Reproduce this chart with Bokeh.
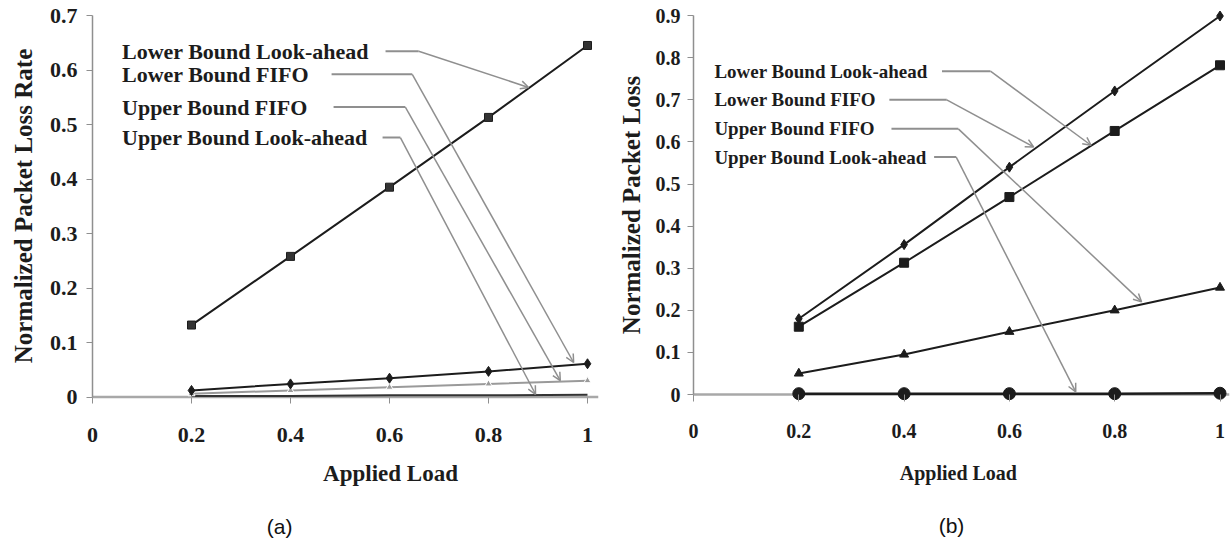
from bokeh.plotting import figure
from bokeh.layouts import row, column
from bokeh.models import Range1d, FixedTicker, NumeralTickFormatter, Span, Arrow, OpenHead, Label
from bokeh.core.properties import value
from bokeh.embed import file_html
from bokeh.resources import INLINE

# ---------------- data ----------------
load = [0.2, 0.4, 0.6, 0.8, 1.0]

# panel (a)
a_lb_look = [0.132, 0.258, 0.385, 0.513, 0.645]
a_lb_fifo = [0.012, 0.024, 0.0345, 0.047, 0.061]
a_ub_fifo = [0.006, 0.012, 0.018, 0.024, 0.030]
a_ub_look = [0.002, 0.002, 0.003, 0.003, 0.004]

# panel (b)
b_lb_look = [0.161, 0.313, 0.469, 0.626, 0.782]
b_lb_fifo = [0.180, 0.356, 0.540, 0.721, 0.899]
b_ub_fifo = [0.050, 0.095, 0.149, 0.200, 0.254]
b_ub_look = [0.002, 0.002, 0.002, 0.002, 0.003]

series_names = ["Lower Bound Look-ahead", "Lower Bound FIFO",
                "Upper Bound FIFO", "Upper Bound Look-ahead"]
x_ticks = [0, 0.2, 0.4, 0.6, 0.8, 1.0]
a_y_ticks = [0, 0.1, 0.2, 0.3, 0.4, 0.5, 0.6, 0.7]
b_y_ticks = [0, 0.1, 0.2, 0.3, 0.4, 0.5, 0.6, 0.7, 0.8, 0.9]
x_title = "Applied Load"
a_y_title = "Normalized Packet Loss Rate"
b_y_title = "Normalized Packet Loss"
captions = ["(a)", "(b)"]

# ---------------- layout / callout geometry (data units) ----------------
a_callout = dict(
    label_x=0.0596, label_y=[0.6345, 0.592, 0.532, 0.476],
    start_x=[0.592, 0.483, 0.487, 0.586], kink_x=[0.659, 0.646, 0.632, 0.622],
    tip=[(0.881, 0.568), (0.972, 0.0633), (0.945, 0.030), (0.895, 0.005)])
b_callout = dict(
    label_x=0.0397, label_y=[0.768, 0.700, 0.631, 0.564],
    start_x=[0.472, 0.372, 0.376, 0.457], kink_x=[0.564, 0.481, 0.503, 0.499],
    tip=[(0.755, 0.592), (0.646, 0.588), (0.851, 0.220), (0.726, 0.0064)])

SERIF = "Liberation Serif"
SANS = "Liberation Sans"
GRAY = "#8f8f8f"
INK = "#1c1c1c"
CHART_H = 455
TOTAL_H = 543


def make_panel(width, frame_left, px_per_x, y0_px, px_per_y, frame_top, frame_bottom,
               y_ticks, y_title, callout, fs_label, fs_tick, fs_ytitle, fs_xtitle,
               xtitle_pos, caption, caption_pos, y_std, y_title_std, x_std):
    frame_w = width - frame_left - 2
    frame_h = frame_bottom - frame_top
    y_start = -(frame_bottom - y0_px) / px_per_y
    y_end = y_start + frame_h / px_per_y
    p = figure(width=width, height=CHART_H, output_backend="svg", toolbar_location=None,
               x_range=Range1d(0, frame_w / px_per_x), y_range=Range1d(y_start, y_end),
               min_border_left=frame_left, min_border_right=2,
               min_border_top=frame_top, min_border_bottom=CHART_H - frame_bottom)
    p.outline_line_color = None
    p.grid.visible = False
    p.background_fill_color = "white"
    p.border_fill_color = "white"

    # y axis
    ya = p.yaxis[0]
    ya.ticker = FixedTicker(ticks=y_ticks)
    ya.formatter = NumeralTickFormatter(format="0.[0]")
    ya.bounds = (0, y_ticks[-1])
    ya.axis_line_color = GRAY
    ya.axis_line_width = 1.5
    ya.major_tick_line_color = GRAY
    ya.major_tick_out = 6
    ya.major_tick_in = 0
    ya.minor_tick_line_color = None
    ya.major_label_text_font = SERIF
    ya.major_label_text_font_style = "bold"
    ya.major_label_text_font_size = f"{fs_tick}px"
    ya.major_label_text_color = INK
    ya.major_label_standoff = y_std
    ya.axis_label = y_title
    ya.axis_label_text_font = SERIF
    ya.axis_label_text_font_style = "bold"
    ya.axis_label_text_font_size = f"{fs_ytitle}px"
    ya.axis_label_text_color = INK
    ya.axis_label_standoff = y_title_std

    # x axis (its line is drawn at y = 0 by a span)
    xa = p.xaxis[0]
    xa.ticker = FixedTicker(ticks=x_ticks)
    xa.formatter = NumeralTickFormatter(format="0.[0]")
    xa.bounds = (0, 1)
    xa.axis_line_color = None
    xa.major_tick_line_color = GRAY
    xa.major_tick_in = int(round(frame_bottom - y0_px))
    xa.major_tick_out = 0
    xa.minor_tick_line_color = None
    xa.major_label_text_font = SERIF
    xa.major_label_text_font_style = "bold"
    xa.major_label_text_font_size = f"{fs_tick}px"
    xa.major_label_text_color = INK
    xa.major_label_standoff = x_std

    zero = Span(location=0, dimension="width", line_color="#a8a8a8", line_width=2.5)
    zero.level = "underlay"
    p.add_layout(zero)

    # callouts
    for i, name in enumerate(series_names):
        ly = callout["label_y"][i]
        p.add_layout(Label(x=callout["label_x"], y=ly, text=name, text_font=SERIF,
                           text_font_style="bold", text_font_size=f"{fs_label}px",
                           text_color=INK, text_align="left", text_baseline="middle"))
        p.line([callout["start_x"][i], callout["kink_x"][i]], [ly, ly],
               line_color=GRAY, line_width=2)
        tx, ty = callout["tip"][i]
        p.add_layout(Arrow(end=OpenHead(size=8, line_color=GRAY, line_width=1.5),
                           x_start=callout["kink_x"][i], y_start=ly, x_end=tx, y_end=ty,
                           line_color=GRAY, line_width=1.5))

    # strip below the chart: axis title and caption (y measured in px from strip top)
    cap_h = TOTAL_H - CHART_H
    c = figure(width=width, height=cap_h, output_backend="svg", toolbar_location=None,
               x_range=p.x_range, y_range=Range1d(cap_h, 0),
               min_border_left=frame_left, min_border_right=2,
               min_border_top=0, min_border_bottom=0)
    c.axis.visible = False
    c.grid.visible = False
    c.outline_line_color = None
    c.text(x=[xtitle_pos[0]], y=[xtitle_pos[1]], text=[x_title],
           text_font=value(SERIF), text_font_style="bold", text_font_size=f"{fs_xtitle}px",
           text_color=INK, text_align="center", text_baseline="middle")
    c.text(x=[caption_pos[0]], y=[caption_pos[1]], text=[caption],
           text_font=value(SANS), text_font_size="21px",
           text_color="#111111", text_align="center", text_baseline="middle")
    return p, c


# ---------------- panel (a) ----------------
pa, ca = make_panel(width=600, frame_left=92, px_per_x=495, y0_px=396.5, px_per_y=545,
                    frame_top=8, frame_bottom=403, y_ticks=a_y_ticks, y_title=a_y_title,
                    callout=a_callout, fs_label=22, fs_tick=22, fs_ytitle=25, fs_xtitle=23,
                    xtitle_pos=(0.602, 473 - CHART_H), caption=captions[0],
                    caption_pos=(0.378, 526 - CHART_H),
                    y_std=9, y_title_std=10, x_std=24)
pa.line(load, a_ub_look, line_color="#333333", line_width=2)
pa.line(load, a_ub_fifo, line_color="#9a9a9a", line_width=2)
pa.scatter(load, a_ub_fifo, marker="triangle", size=7, fill_color="#9a9a9a", line_color="white")
pa.line(load, a_lb_fifo, line_color=INK, line_width=2)
pa.scatter(load, a_lb_fifo, marker="diamond", size=10, fill_color=INK, line_color=INK)
pa.line(load, a_lb_look, line_color=INK, line_width=2)
pa.scatter(load, a_lb_look, marker="square", size=8, fill_color="#333333", line_color=INK)

# ---------------- panel (b) ----------------
pb, cb = make_panel(width=631, frame_left=93, px_per_x=526.5, y0_px=394, px_per_y=421,
                    frame_top=8, frame_bottom=401, y_ticks=b_y_ticks, y_title=b_y_title,
                    callout=b_callout, fs_label=19, fs_tick=20, fs_ytitle=25, fs_xtitle=20,
                    xtitle_pos=(0.503, 472 - CHART_H), caption=captions[1],
                    caption_pos=(0.490, 525 - CHART_H),
                    y_std=7, y_title_std=8, x_std=22)
pb.line(load, b_ub_look, line_color=INK, line_width=2.5)
pb.scatter(load, b_ub_look, marker="circle", size=12, fill_color=INK, line_color=INK)
pb.line(load, b_ub_fifo, line_color=INK, line_width=2)
pb.scatter(load, b_ub_fifo, marker="triangle", size=9, fill_color=INK, line_color=INK)
pb.line(load, b_lb_look, line_color=INK, line_width=2)
pb.scatter(load, b_lb_look, marker="square", size=9, fill_color=INK, line_color=INK)
pb.line(load, b_lb_fifo, line_color=INK, line_width=2)
pb.scatter(load, b_lb_fifo, marker="diamond", size=10, fill_color=INK, line_color=INK)

layout = row(column(pa, ca, spacing=0), column(pb, cb, spacing=0), spacing=0)
open("out.html", "w").write(file_html(layout, INLINE))
